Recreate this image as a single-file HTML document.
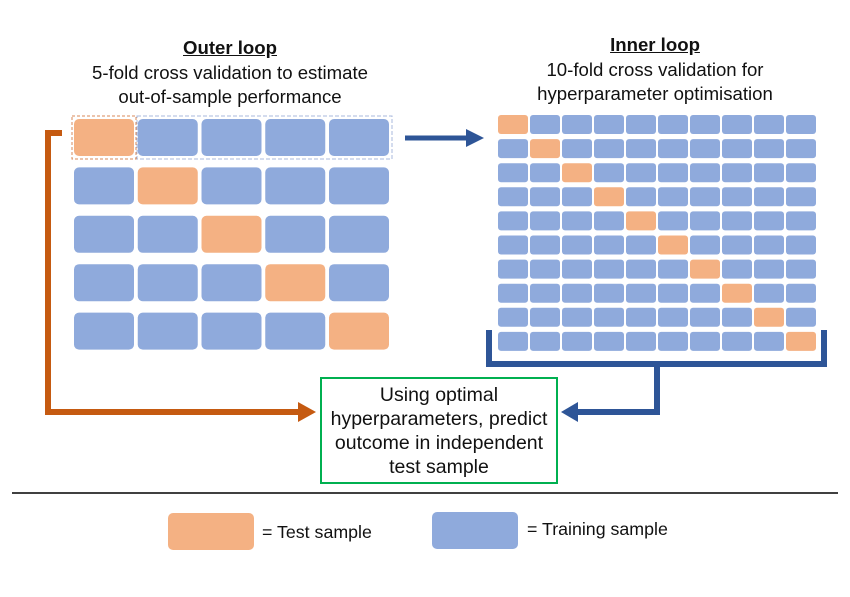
<!DOCTYPE html>
<html><head><style>
body{margin:0;width:850px;height:597px;background:#fff;font-family:"Liberation Sans",sans-serif;position:relative;overflow:hidden}
.t{position:absolute;text-align:center;color:#111;font-size:19.5px;line-height:24.5px;white-space:nowrap}
.h{font-size:18.6px}
</style></head><body>
<div class="t h" style="left:20px;width:420px;top:36px"><b><u>Outer loop</u></b><br>5-fold cross validation to estimate<br>out-of-sample performance</div>
<div class="t h" style="left:450px;width:410px;top:33px"><b><u>Inner loop</u></b><br>10-fold cross validation for<br>hyperparameter optimisation</div>
<svg width="850" height="597" style="position:absolute;left:0;top:0">
<g id="outer"></g><g id="inner"></g>
<rect x="72" y="116" width="64" height="43" fill="none" stroke="#d98a5a" stroke-dasharray="3,2"/>
<rect x="137" y="116" width="255" height="43" fill="none" stroke="#aab8dc" stroke-dasharray="4,2"/>
<line x1="405" y1="138" x2="468" y2="138" stroke="#2e5597" stroke-width="5"/>
<polygon points="466,129 484,138 466,147" fill="#2e5597"/>
<polyline points="62,133 48,133 48,412 300,412" fill="none" stroke="#c55a11" stroke-width="6"/>
<polygon points="298,402 316,412 298,422" fill="#c55a11"/>
<polyline points="489,330 489,364 824,364 824,330" fill="none" stroke="#2e5597" stroke-width="6"/>
<polyline points="657,364 657,412 575,412" fill="none" stroke="#2e5597" stroke-width="6"/>
<polygon points="578,402 561,412 578,422" fill="#2e5597"/>
<rect x="321" y="378" width="236" height="105" fill="#fff" stroke="#00b050" stroke-width="2"/>
<line x1="12" y1="493" x2="838" y2="493" stroke="#000" stroke-width="1.5"/>
<rect x="168" y="513" width="86" height="37" rx="5" fill="#f4b183"/>
<rect x="432" y="512" width="86" height="37" rx="5" fill="#8faadc"/>
</svg>
<div class="t" style="left:311px;width:256px;top:383px;line-height:24px">Using optimal<br>hyperparameters, predict<br>outcome in independent<br>test sample</div>
<div class="t" style="left:262px;top:520px;text-align:left;font-size:17.8px">= Test sample</div>
<div class="t" style="left:527px;top:517px;text-align:left;font-size:17.8px">= Training sample</div>
<script>
var ns="http://www.w3.org/2000/svg";
function r(g,x,y,w,h,c,rx){var e=document.createElementNS(ns,"rect");e.setAttribute("x",x);e.setAttribute("y",y);e.setAttribute("width",w);e.setAttribute("height",h);e.setAttribute("rx",rx);e.setAttribute("fill",c);document.getElementById(g).appendChild(e);}
for(var i=0;i<5;i++)for(var j=0;j<5;j++)r("outer",74+j*63.75,119+i*48.4,60,37,i==j?"#f4b183":"#8faadc",5);
for(var i=0;i<10;i++)for(var j=0;j<10;j++)r("inner",498+j*32,115+i*24.1,30,19,i==j?"#f4b183":"#8faadc",3);
</script>
</body></html>
